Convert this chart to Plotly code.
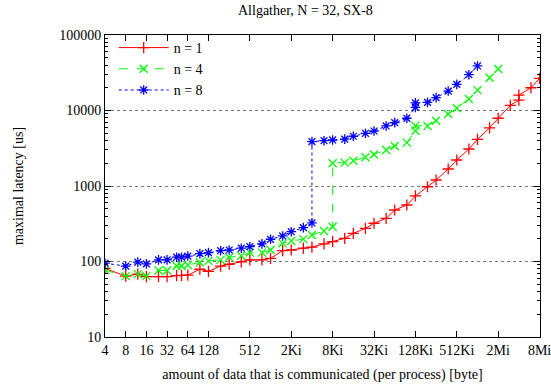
import plotly.graph_objects as go

Ki = 1024
Mi = 1024 * 1024

# n = 1
x_n1 = [4, 8, 12, 16, 24, 32, 44, 52, 64, 96, 128, 192, 256, 384, 512, 768,
        1*Ki, 1.5*Ki, 2*Ki, 3*Ki, 4*Ki, 6*Ki, 8*Ki, 12*Ki, 16*Ki, 24*Ki, 32*Ki,
        48*Ki, 64*Ki, 96*Ki, 128*Ki, 192*Ki, 256*Ki, 384*Ki, 512*Ki, 768*Ki,
        1*Mi, 1.5*Mi, 2*Mi, 3*Mi, 4*Mi, 4*Mi, 6*Mi, 8*Mi]
y_n1 = [81, 64, 68, 63, 63, 63, 65, 65.5, 66, 79, 74, 87, 92, 99, 105, 105,
        110, 139, 142, 150, 155, 171, 183, 203, 236, 275, 321,
        373, 481, 560, 738, 977, 1200, 1680, 2210, 3090,
        4150, 5900, 7890, 11700, 13700, 16000, 20000, 26700]

# n = 4
x_n4 = [4, 8, 12, 16, 24, 32, 44, 52, 64, 96, 128, 192, 256, 384, 512, 768,
        1*Ki, 1.5*Ki, 2*Ki, 3*Ki, 4*Ki, 6*Ki, 8*Ki, 8*Ki, 12*Ki, 16*Ki, 24*Ki,
        32*Ki, 48*Ki, 64*Ki, 96*Ki, 128*Ki, 128*Ki, 192*Ki, 256*Ki, 384*Ki,
        512*Ki, 768*Ki, 1*Mi, 1.5*Mi, 2*Mi]
y_n4 = [77, 64, 68, 64, 76, 76, 87, 87, 90, 97, 102, 105, 114, 119, 131, 131,
        142, 174, 187, 198, 224, 253, 289, 2000, 2040, 2160, 2400,
        2620, 3000, 3390, 3750, 5400, 6300, 6240, 7330, 9000,
        10700, 14200, 18600, 27200, 35500]

# n = 8
x_n8 = [4, 8, 12, 16, 24, 32, 44, 52, 64, 96, 128, 192, 256, 384, 512, 768,
        1*Ki, 1.5*Ki, 2*Ki, 3*Ki, 4*Ki, 4*Ki, 6*Ki, 8*Ki, 12*Ki, 16*Ki, 24*Ki,
        32*Ki, 48*Ki, 64*Ki, 96*Ki, 128*Ki, 128*Ki, 192*Ki, 256*Ki, 384*Ki,
        512*Ki, 768*Ki, 1*Mi]
y_n8 = [95, 87, 98, 93, 105, 105, 114, 114, 118, 127, 131, 139, 142, 150, 157, 171,
        197, 218, 248, 281, 324, 3870, 3980, 4070, 4180, 4560, 4990,
        5350, 6240, 6900, 7890, 11000, 12600, 12800, 14800, 18100,
        22200, 29800, 38900]

x_tickvals = [4, 8, 16, 32, 64, 128, 512, 2*Ki, 8*Ki, 32*Ki, 128*Ki, 512*Ki, 2*Mi, 8*Mi]
x_ticktext = ["4", "8", "16", "32", "64", "128", "512", "2Ki", "8Ki", "32Ki",
              "128Ki", "512Ki", "2Mi", "8Mi"]
y_tickvals = [10, 100, 1000, 10000, 100000]
y_ticktext = ["10", "100", "1000", "10000", "100000"]

FONT = "Liberation Serif"

fig = go.Figure()
fig.add_trace(go.Scatter(
    x=x_n1, y=y_n1, name="n = 1", mode="lines+markers",
    line=dict(color="#ff0000", width=1, dash="solid"),
    marker=dict(symbol="cross-thin-open", size=8, color="#ff0000",
                line=dict(color="#ff0000", width=1.3)),
))
fig.add_trace(go.Scatter(
    x=x_n4, y=y_n4, name="n = 4", mode="lines+markers",
    line=dict(color="#00ff00", width=1, dash="dash"),
    marker=dict(symbol="x-thin-open", size=8, color="#00ff00",
                line=dict(color="#00ff00", width=1.3)),
))
fig.add_trace(go.Scatter(
    x=x_n8, y=y_n8, name="n = 8", mode="lines+markers",
    line=dict(color="#0000ff", width=1, dash="dot"),
    marker=dict(symbol="asterisk-open", size=8, color="#0000ff",
                line=dict(color="#0000ff", width=1.3)),
))

fig.update_layout(
    width=551, height=388,
    margin=dict(l=105, r=11, t=35, b=51),
    paper_bgcolor="white", plot_bgcolor="white",
    font=dict(family=FONT, size=14, color="black"),
    showlegend=True,
    legend=dict(x=0.02, y=1.01, xanchor="left", yanchor="top",
                bgcolor="rgba(0,0,0,0)", borderwidth=0,
                font=dict(family=FONT, size=14, color="black"), tracegroupgap=0,
                itemwidth=50),
    annotations=[dict(text="Allgather, N = 32, SX-8", xref="paper", yref="paper",
                      x=0.46, y=1.0, yshift=25, xanchor="center", yanchor="middle",
                      showarrow=False, font=dict(family=FONT, size=14))],
)
fig.update_xaxes(
    type="log", range=[0.602, 6.93], automargin=False,
    tickvals=x_tickvals, ticktext=x_ticktext,
    ticks="inside", ticklen=6, tickcolor="black", tickwidth=1,
    showline=True, linecolor="black", linewidth=1, mirror="ticks",
    showgrid=False, zeroline=False, ticklabeloverflow="allow",
    title=dict(text="amount of data that is communicated (per process) [byte]",
               font=dict(family=FONT, size=14), standoff=12),
    tickfont=dict(family=FONT, size=14),
)
fig.update_yaxes(
    type="log", range=[1, 5], automargin=False,
    tickvals=y_tickvals, ticktext=y_ticktext,
    ticks="inside", ticklen=6, tickcolor="black", tickwidth=1,
    minor=dict(ticks="inside", ticklen=3, tickcolor="black", showgrid=False, dtick="D1"),
    showline=True, linecolor="black", linewidth=1, mirror="ticks",
    showgrid=True, gridcolor="#777777", griddash="dot", gridwidth=1,
    zeroline=False,
    title=dict(text="maximal latency [us]", font=dict(family=FONT, size=14), standoff=32),
    tickfont=dict(family=FONT, size=14),
)

fig.write_html("out.html")
